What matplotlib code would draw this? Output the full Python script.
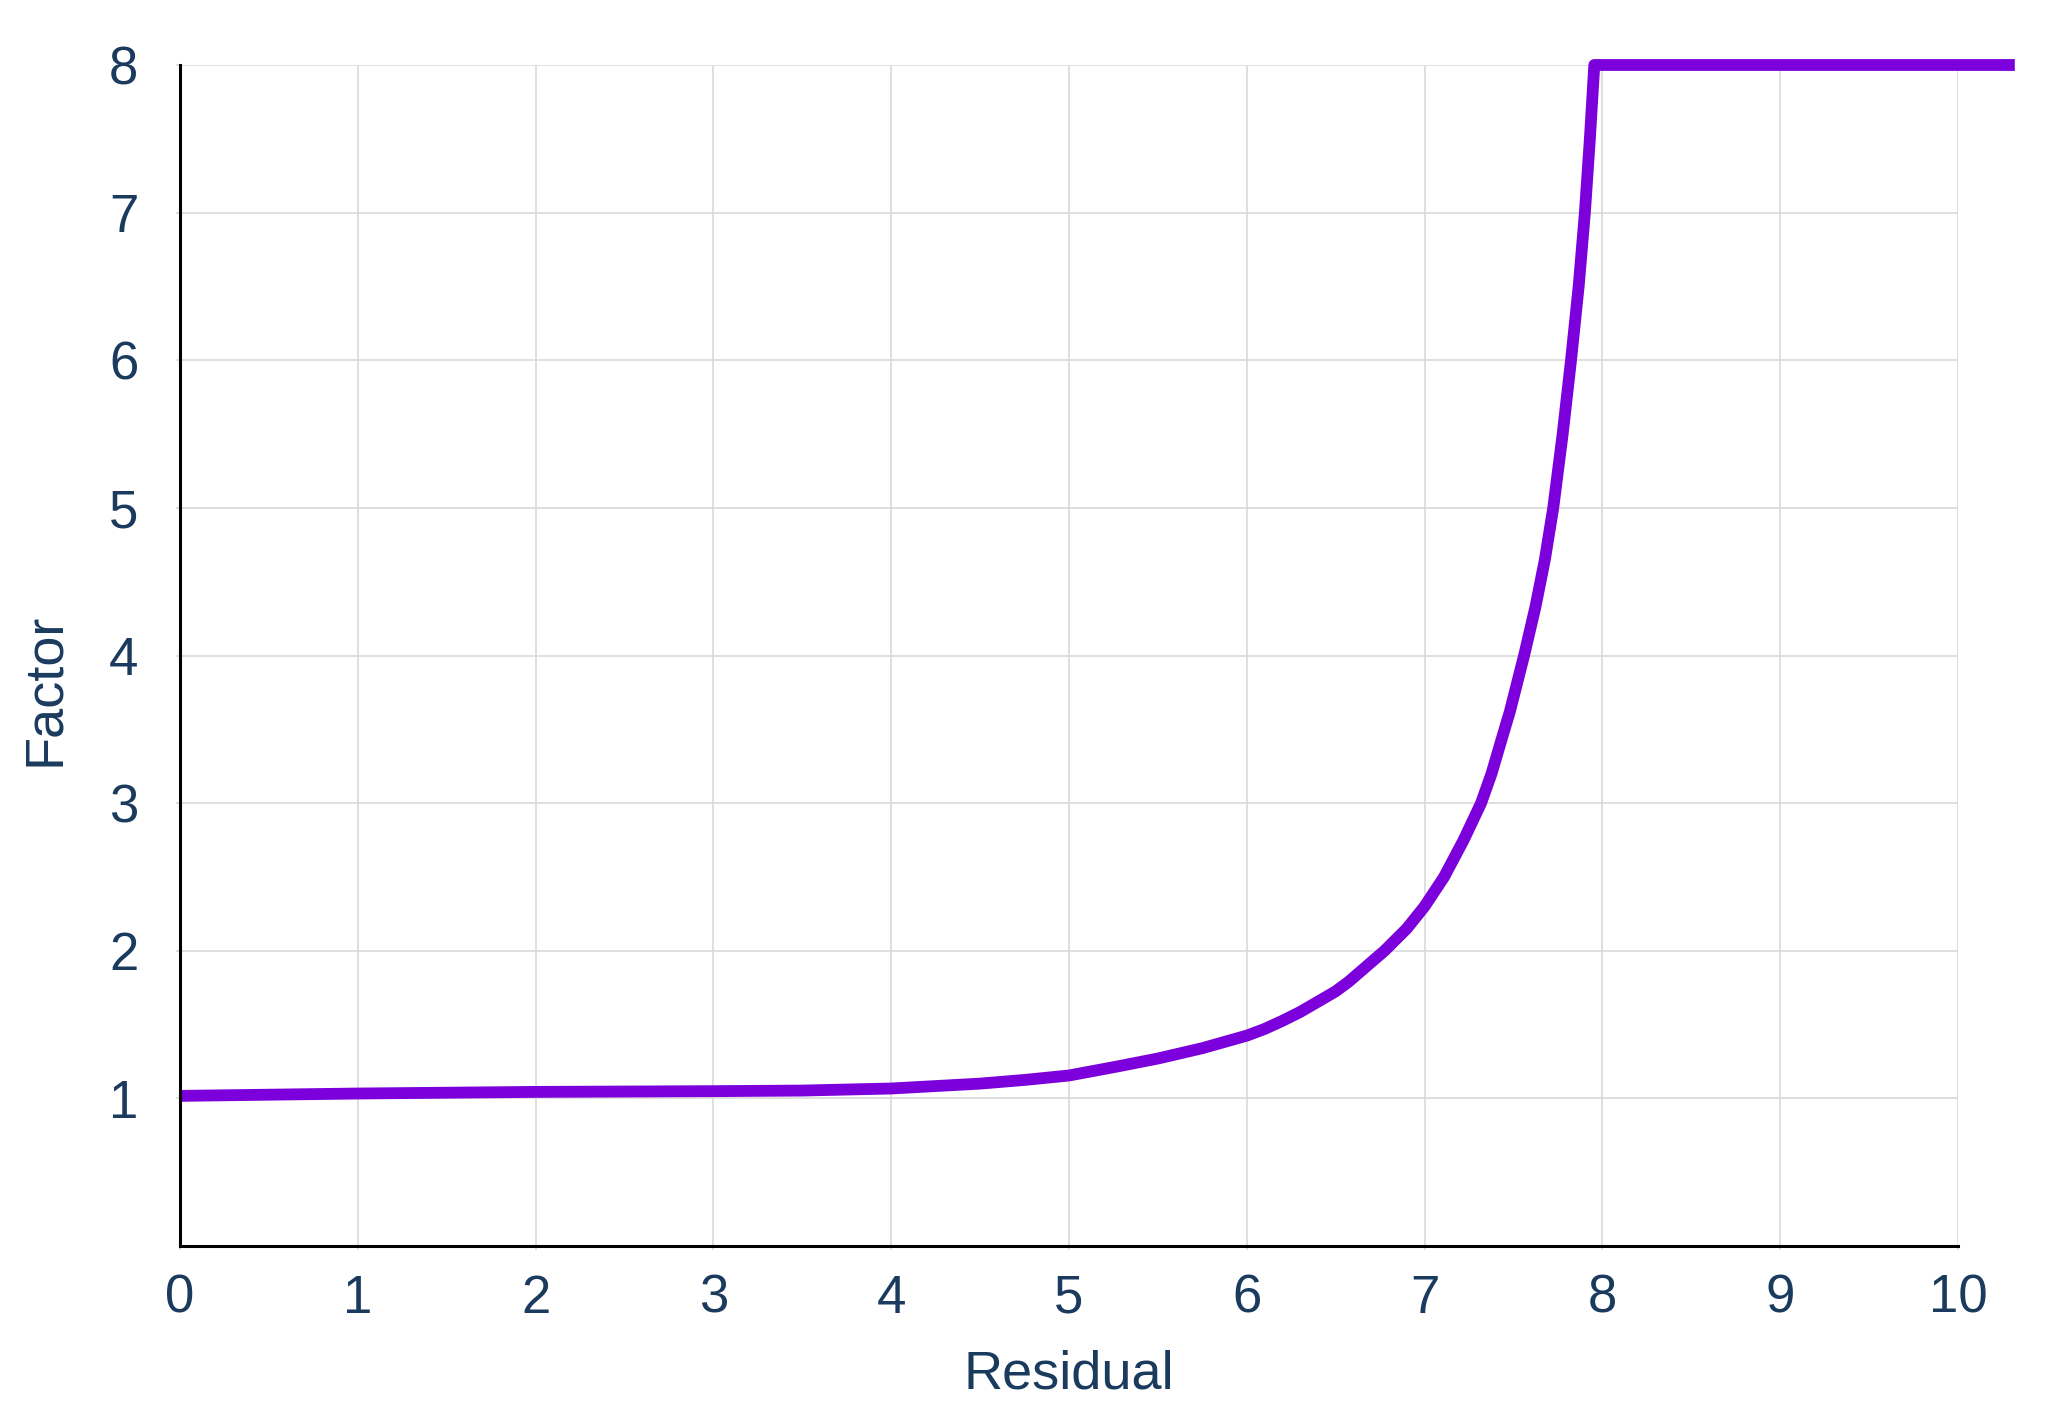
import matplotlib
matplotlib.use("Agg")
import matplotlib.pyplot as plt

# values
residual = [0, 0.5, 1, 2, 3, 3.5, 4, 4.5, 4.75, 5.0, 5.267, 5.5, 5.75,
            6.0, 6.1, 6.2, 6.3, 6.386, 6.5, 6.573, 6.775, 6.9, 7.0, 7.11,
            7.22, 7.318, 7.377, 7.433, 7.48, 7.56, 7.624, 7.677, 7.724,
            7.777, 7.824, 7.867, 7.902, 7.93, 7.955, 10.32]
factor = [1.017, 1.025, 1.033, 1.044, 1.049, 1.053, 1.067, 1.10, 1.125,
          1.155, 1.215, 1.27, 1.34, 1.425, 1.47, 1.525, 1.585, 1.645, 1.725,
          1.79, 2.0, 2.15, 2.30, 2.50, 2.75, 3.0, 3.2, 3.43, 3.62, 4.0,
          4.33, 4.65, 5.0, 5.5, 6.0, 6.5, 7.0, 7.5, 8.0, 8.0]

x_ticks = [0, 1, 2, 3, 4, 5, 6, 7, 8, 9, 10]
y_ticks = [1, 2, 3, 4, 5, 6, 7, 8]

text_color = "#1a3b5e"
grid_color = "#d9d9d9"
line_color = "#7b00db"

plt.rcParams['font.family'] = ['Liberation Sans', 'DejaVu Sans']

fig = plt.figure(figsize=(20.59, 14.19), dpi=100)
ax = fig.add_axes([0.0874, 0.1219, 0.8635, 0.8323])

ax.plot(residual, factor, color=line_color, linewidth=8.5,
        solid_capstyle='butt', solid_joinstyle='round', clip_on=False, zorder=5)

ax.set_xlim(0, 10)
ax.set_ylim(0, 8)
ax.set_xticks(x_ticks)
ax.set_yticks(y_ticks)

ax.grid(True, color=grid_color, linewidth=1.2)
ax.set_axisbelow(True)

for side in ['top', 'right']:
    ax.spines[side].set_visible(False)
for side in ['left', 'bottom']:
    ax.spines[side].set_linewidth(2.2)
    ax.spines[side].set_color('black')
    ax.spines[side].set_zorder(6)

ax.tick_params(axis='both', colors=grid_color, length=3, width=1.2,
               labelsize=38, labelcolor=text_color)
ax.tick_params(axis='x', pad=17)
ax.tick_params(axis='y', pad=27)

ax.set_xlabel("Residual", fontsize=39, color=text_color)
ax.set_ylabel("Factor", fontsize=39, color=text_color)
ax.xaxis.set_label_coords(0.5, -0.088)
ax.yaxis.set_label_coords(-0.062, 0.471)

fig.savefig("out.png", dpi=100, facecolor="white")
